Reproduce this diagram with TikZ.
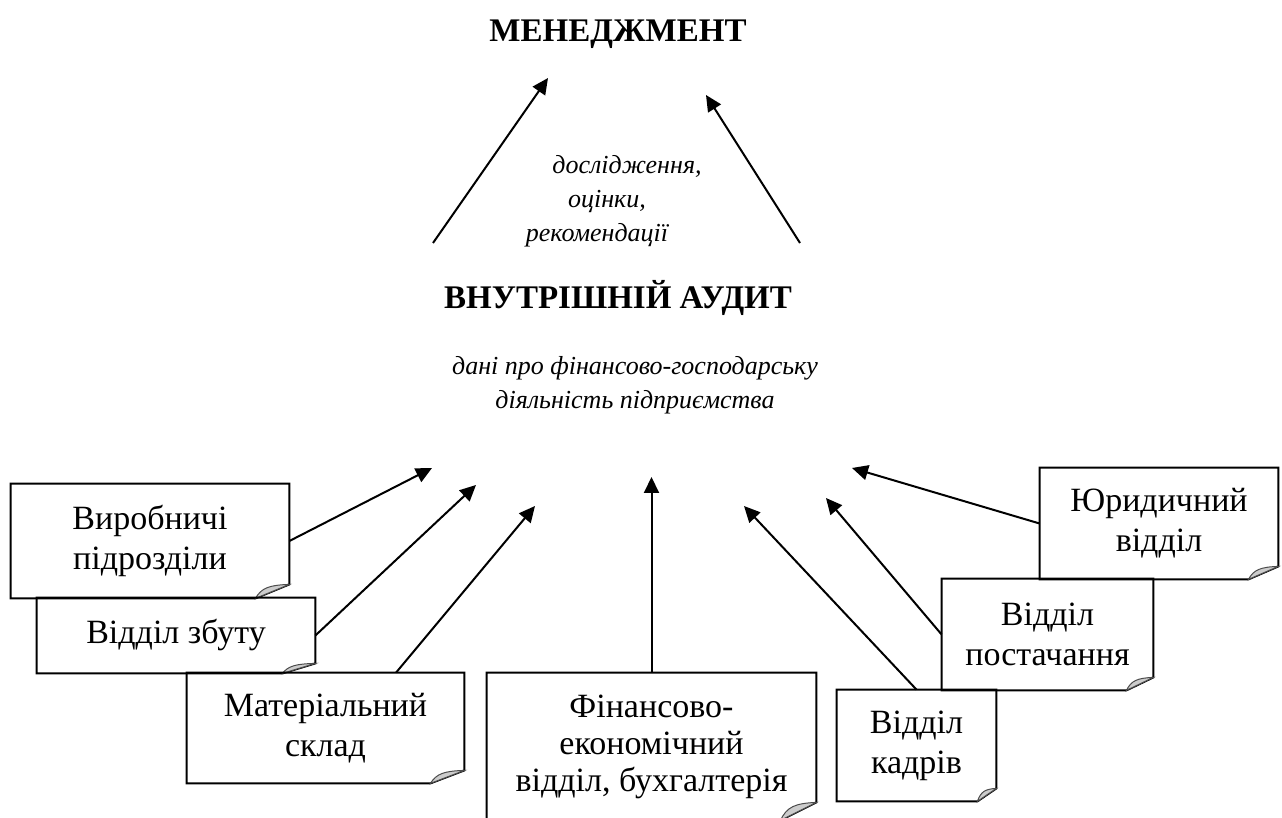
\documentclass[tikz,border=0pt]{standalone}
\usepackage{fontspec}
\setmainfont{Liberation Serif}
\usetikzlibrary{arrows.meta,calc}
\definecolor{foldgrey}{RGB}{204,204,204}
\newcommand\sheetfont{\fontsize{17pt}{20pt}\selectfont}
\newcommand\headfont{\fontsize{16.5pt}{20pt}\selectfont\bfseries}
\newcommand\remarkfont{\fontsize{13pt}{17pt}\selectfont\itshape}
\tikzset{
  sheet/.style 2 args={rectangle, inner sep=0pt, minimum width=#1*0.5pt,
    minimum height=#2*0.5pt, align=center, font=\sheetfont},
  sheetline/.style={line width=1pt, line join=miter},
  sheetfold/.style={fill=foldgrey, draw=black!70, line width=0.5pt},
  flow/.style={line width=1pt, -{Triangle[length=8pt,width=7.5pt]}},
  headtext/.style={font=\headfont, inner sep=0pt},
  remark/.style={font=\remarkfont, align=center, inner sep=0pt},
}
% outline of a sheet with a folded bottom-right corner:
% node name, fold width, fold height (in picture units)
\newcommand\paper[3]{%
  \draw[sheetline] (#1.north west) -- (#1.north east)
    -- ($(#1.south east)+(0,-#3)$) -- ($(#1.south east)+(-#2,0)$)
    -- (#1.south west) -- cycle;
  \draw[sheetfold] ($(#1.south east)+(-#2,0)$)
    .. controls ($(#1.south east)+(-0.82*#2,-0.75*#3)$)
    and ($(#1.south east)+(-0.6*#2,-0.95*#3)$)
    .. ($(#1.south east)+(0,-#3)$) -- cycle;
}
\begin{document}
\begin{tikzpicture}[x=0.5pt,y=-0.5pt]
\useasboundingbox (0,0) rectangle (1282,818);

% headings and captions
\node[headtext, anchor=base] (mgmt) at (618,42) {МЕНЕДЖМЕНТ};
\node[remark] (findings) at (607,201)
  {\hspace*{20pt}дослідження,\\оцінки,\\рекомендації\hspace*{10pt}};
\node[headtext, anchor=base] (audit) at (618,309) {ВНУТРІШНІЙ АУДИТ};
\node[remark] (data) at (635,385)
  {дані про фінансово-господарську\\діяльність підприємства};

% departments
\node[sheet={278}{114}] (prod)   at (150,541)     {Виробничі\\підрозділи};
\node[sheet={278}{75}]  (sales)  at (176,635.5)   {Відділ збуту};
\node[sheet={277}{110}] (store)  at (325.5,728)   {Матеріальний\\склад};
\node[sheet={329}{147}, font=\fontsize{17pt}{18.5pt}\selectfont]
                        (fin)    at (651.5,746.5) {Фінансово-\\економічний\\відділ, бухгалтерія};
\node[sheet={159}{111}] (staff)  at (916.5,745.5) {Відділ\\кадрів};
\node[sheet={211}{111}] (supply) at (1047.5,634.5){Відділ\\постачання};
\node[sheet={238}{111}] (legal)  at (1159,523.5)  {Юридичний\\відділ};

\paper{prod}{34}{14}
\paper{sales}{33}{10}
\paper{store}{34}{13}
\paper{fin}{36}{18}
\paper{staff}{19}{13}
\paper{supply}{27}{13}
\paper{legal}{30}{13}

% arrow targets below the caption
\coordinate (t1) at (432,468);
\coordinate (t2) at (476,485);
\coordinate (t3) at (535,506);
\coordinate (t4) at (651.5,477);
\coordinate (t5) at (744,506);
\coordinate (t6) at (826,498);
\coordinate (t7) at (852,468);

\draw[flow] (prod.east) -- (t1);
\draw[flow] (sales.east) -- (t2);
\draw[flow] ($(store.north west)!0.754!(store.north east)$) -- (t3);
\draw[flow] (fin.north) -- (t4);
\draw[flow] (staff.north) -- (t5);
\draw[flow] (supply.west) -- (t6);
\draw[flow] (legal.west) -- (t7);

% upward arrows towards management
\coordinate (u1) at (433,243);
\coordinate (m1) at (548,78);
\coordinate (u2) at (800,243);
\coordinate (m2) at (706,95);
\draw[flow] (u1) -- (m1);
\draw[flow] (u2) -- (m2);
\end{tikzpicture}
\end{document}
